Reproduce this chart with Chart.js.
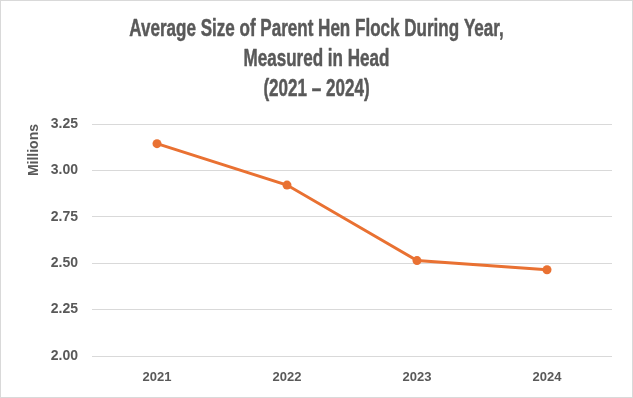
<!DOCTYPE html>
<html>
<head>
<meta charset="utf-8">
<script src="https://cdn.jsdelivr.net/npm/chart.js@4"></script>
<style>
  html, body { margin: 0; padding: 0; background: #fff; }
  #wrap { width: 633px; height: 398px; box-sizing: border-box; border: 1px solid #d9d9d9; }
  #chart { display: block; }
</style>
</head>
<body>
<div id="wrap"><canvas id="chart" width="631" height="396"></canvas></div>
<script>
const years = ['2021', '2022', '2023', '2024'];
const henFlock = [3.144, 2.921, 2.514, 2.465];
const titleLines = ['Average Size of Parent Hen Flock During Year,', 'Measured in Head', '(2021 \u2013 2024)'];

const grey = '#595959';
const orange = '#E97132';

// the title font in the original is a narrow heavy face; squeeze a normal bold one
const narrowTitle = {
    id: 'narrowTitle',
    afterDraw(chart) {
        const c = chart.ctx;
        const cx = chart.width / 2;
        c.save();
        c.fillStyle = grey;
        c.strokeStyle = grey;
        c.lineWidth = 0.5;
        c.lineJoin = 'round';
        c.font = "bold 24px 'Liberation Sans', sans-serif";
        c.textAlign = 'center';
        c.textBaseline = 'middle';
        titleLines.forEach((line, i) => {
            c.save();
            c.translate(cx, 28 + i * 30);
            c.scale(0.71, 1);
            c.fillText(line, 0, 0);
            c.strokeText(line, 0, 0);
            c.restore();
        });
        c.restore();
    }
};

const ctx = document.getElementById('chart').getContext('2d');
new Chart(ctx, {
    type: 'line',
    data: {
        labels: years,
        datasets: [{
            data: henFlock,
            borderColor: orange,
            backgroundColor: orange,
            borderWidth: 3,
            pointRadius: 4.5,
            pointBackgroundColor: orange,
            pointBorderWidth: 0,
            tension: 0
        }]
    },
    options: {
        responsive: false,
        animation: false,
        layout: { padding: { left: 0, right: 20, top: 123, bottom: 0 } },
        plugins: {
            legend: { display: false },
            tooltip: { enabled: false },
            title: { display: false }
        },
        scales: {
            x: {
                offset: true,
                grid: { display: false, drawTicks: false },
                border: { display: false },
                ticks: { color: grey, font: { family: 'Liberation Sans', size: 13, weight: 'bold' }, padding: 14 },
                afterFit: (scale) => { scale.height = 41; }
            },
            y: {
                min: 2,
                max: 3.25,
                grid: { color: '#d9d9d9', lineWidth: 1, drawTicks: false },
                border: { display: false },
                ticks: {
                    stepSize: 0.25,
                    color: grey,
                    font: { family: 'Liberation Sans', size: 14, weight: 'bold' },
                    padding: 14,
                    callback: (v) => v.toFixed(2)
                },
                title: {
                    display: true,
                    text: 'Millions',
                    align: 'end',
                    color: grey,
                    font: { family: 'Liberation Sans', size: 14, weight: 'bold' },
                    padding: { top: 25, bottom: 0 }
                },
                afterFit: (scale) => { scale.width = 91; }
            }
        }
    },
    plugins: [narrowTitle]
});
</script>
</body>
</html>
